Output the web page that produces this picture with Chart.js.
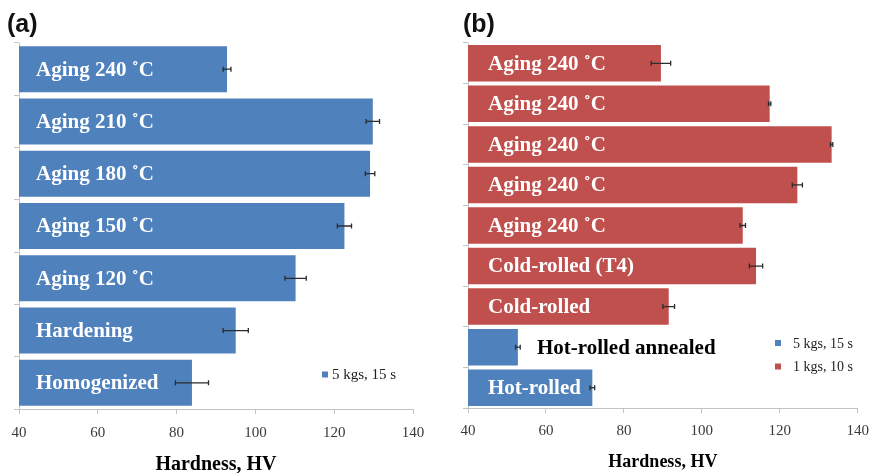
<!DOCTYPE html>
<html>
<head>
<meta charset="utf-8">
<script src="https://cdn.jsdelivr.net/npm/chart.js@4.4.0/dist/chart.umd.min.js"></script>
<style>
  body { margin: 0; background: #fff; width: 878px; height: 473px; position: relative; overflow: hidden; }
  .panel { position: absolute; top: 0; height: 473px; }
</style>
</head>
<body>
<div class="panel" style="left:0;width:440px"><canvas id="chartA"></canvas></div>
<div class="panel" style="left:440px;width:438px"><canvas id="chartB"></canvas></div>
<script>
  // ---- data, panel (a) ----
  const catsA = ["Aging 240 \u02DAC", "Aging 210 \u02DAC", "Aging 180 \u02DAC", "Aging 150 \u02DAC", "Aging 120 \u02DAC", "Hardening", "Homogenized"];
  const hardA = [92.8, 129.8, 129.1, 122.6, 110.2, 95.0, 83.9];
  const errA  = [1.0, 1.7, 1.2, 1.8, 2.7, 3.2, 4.2];

  // ---- data, panel (b) ----
  const catsB = ["Aging 240 \u02DAC", "Aging 240 \u02DAC", "Aging 240 \u02DAC", "Aging 240 \u02DAC", "Aging 240 \u02DAC",
                 "Cold-rolled (T4)", "Cold-rolled", "Hot-rolled annealed", "Hot-rolled"];
  const hard5kgB = [null, null, null, null, null, null, null, 52.8, 71.9];
  const err5kgB  = [null, null, null, null, null, null, null, 0.6, 0.6];
  const hard1kgB = [89.5, 117.4, 133.3, 124.5, 110.5, 113.9, 91.5, null, null];
  const err1kgB  = [2.5, 0.3, 0.3, 1.3, 0.7, 1.7, 1.5, null, null];

  const xMin = 40, xMax = 140, xStep = 20;
  const axisTitle = "Hardness, HV";

  const BLUE = "#4f81bd";
  const RED = "#c0504d";
  const AXIS = "#c4c4c4";
  const SERIF = "'Liberation Serif', 'Times New Roman', serif";

  // error bars, drawn through the scales
  const errorBars = {
    id: "errorBars",
    afterDatasetsDraw(chart) {
      const ctx = chart.ctx, xs = chart.scales.x, ys = chart.scales.y;
      ctx.save();
      ctx.strokeStyle = "#2b2b2b";
      ctx.lineWidth = 1.3;
      chart.data.datasets.forEach(ds => {
        ds.data.forEach((v, i) => {
          if (v == null || ds.errors[i] == null) return;
          const x0 = xs.getPixelForValue(v - ds.errors[i]);
          const x1 = xs.getPixelForValue(v + ds.errors[i]);
          const y = ys.getPixelForValue(i);
          ctx.beginPath();
          ctx.moveTo(x0, y); ctx.lineTo(x1, y);
          ctx.moveTo(x0, y - 2.5); ctx.lineTo(x0, y + 2.5);
          ctx.moveTo(x1, y - 2.5); ctx.lineTo(x1, y + 2.5);
          ctx.stroke();
        });
      });
      ctx.restore();
    }
  };

  // category names written on the bars
  const barNames = {
    id: "barNames",
    afterDatasetsDraw(chart, args, opts) {
      const ctx = chart.ctx, xs = chart.scales.x, ys = chart.scales.y;
      ctx.save();
      ctx.font = "bold 21px " + SERIF;
      ctx.textBaseline = "middle";
      chart.data.labels.forEach((name, i) => {
        const ds = chart.data.datasets.find(d => d.data[i] != null);
        const end = xs.getPixelForValue(ds.data[i]);
        const start = xs.getPixelForValue(xMin) + opts.inset;
        const y = ys.getPixelForValue(i) + 1;
        const w = ctx.measureText(name).width;
        if (start + w < end) {
          ctx.fillStyle = "#ffffff";
          ctx.fillText(name, start, y);
        } else {
          ctx.fillStyle = "#000000";
          ctx.fillText(name, end + 19, y);
        }
      });
      ctx.restore();
    }
  };

  // panel letter and legend
  const decor = {
    id: "decor",
    afterDraw(chart, args, opts) {
      const ctx = chart.ctx;
      ctx.save();
      ctx.fillStyle = "#111";
      ctx.font = "bold 25px 'Liberation Sans', Arial, sans-serif";
      ctx.textBaseline = "middle";
      ctx.fillText(opts.letter, opts.letterX, 25);
      ctx.font = opts.legendFont + "px " + SERIF;
      chart.data.datasets.forEach((ds, k) => {
        const y = opts.legendY + k * 23.5;
        ctx.fillStyle = ds.backgroundColor;
        ctx.fillRect(opts.legendX, y - 3, 6, 6);
        ctx.fillStyle = "#222";
        ctx.fillText(ds.label, opts.legendX + opts.legendGap, y + 1);
      });
      ctx.restore();
    }
  };

  function makeOptions(p) {
    return {
      indexAxis: "y",
      responsive: true,
      maintainAspectRatio: false,
      animation: false,
      layout: { padding: { left: 0, right: p.padRight, top: 43, bottom: 0 } },
      plugins: {
        legend: { display: false },
        tooltip: { enabled: false },
        barNames: { inset: p.inset },
        decor: p.decor
      },
      datasets: { bar: { categoryPercentage: p.catPct, barPercentage: 1, grouped: false } },
      scales: {
        x: {
          type: "linear",
          min: xMin, max: xMax,
          afterFit(s) { s.height = p.xHeight; },
          ticks: { stepSize: xStep, padding: p.tickPad, color: "#3a3a3a", font: { family: SERIF, size: 15 } },
          grid: { display: true, drawOnChartArea: false, tickLength: 5, color: AXIS },
          border: { color: AXIS },
          title: {
            display: true, text: axisTitle, color: "#000",
            font: { family: SERIF, size: p.titleSize, weight: "bold" },
            padding: { top: 0, bottom: p.titlePadBottom }
          }
        },
        y: {
          type: "category",
          afterFit(s) { s.width = p.yWidth; },
          ticks: { display: false },
          grid: { display: true, drawOnChartArea: false, tickLength: 5, color: AXIS, offset: true },
          border: { color: AXIS }
        }
      }
    };
  }

  new Chart("chartA", {
    type: "bar",
    data: {
      labels: catsA,
      datasets: [
        { label: "5 kgs, 15 s", data: hardA, errors: errA, backgroundColor: BLUE }
      ]
    },
    options: makeOptions({
      yWidth: 19, xHeight: 64, padRight: 27, catPct: 0.88, inset: 17,
      tickPad: 10.5, titleSize: 20, titlePadBottom: -4,
      decor: { letter: "(a)", letterX: 7, legendX: 322, legendY: 374.5, legendGap: 10, legendFont: 15 }
    }),
    plugins: [errorBars, barNames, decor]
  });

  new Chart("chartB", {
    type: "bar",
    data: {
      labels: catsB,
      datasets: [
        { label: "5 kgs, 15 s", data: hard5kgB, errors: err5kgB, backgroundColor: BLUE },
        { label: "1 kgs, 10 s", data: hard1kgB, errors: err1kgB, backgroundColor: RED }
      ]
    },
    options: makeOptions({
      yWidth: 28, xHeight: 65, padRight: 16, catPct: 0.9, inset: 20,
      tickPad: 9, titleSize: 18, titlePadBottom: -0.5,
      decor: { letter: "(b)", letterX: 23, legendX: 335, legendY: 343, legendGap: 18, legendFont: 14 }
    }),
    plugins: [errorBars, barNames, decor]
  });
</script>
</body>
</html>
